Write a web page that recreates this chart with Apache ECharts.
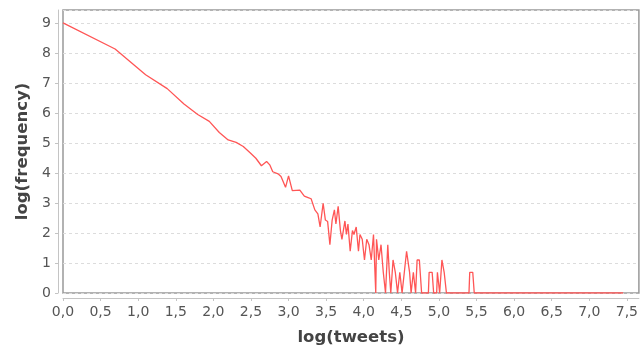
<!DOCTYPE html>
<html>
<head>
<meta charset="utf-8">
<script src="https://cdn.jsdelivr.net/npm/echarts@6/dist/echarts.min.js"></script>
<style>
  html, body { margin: 0; padding: 0; background: #fff; }
  #chart { width: 641px; height: 352px; }
</style>
</head>
<body>
<div id="chart"></div>
<script>
// log(tweets) on x, log(frequency) on y
const logTweets = [
  0, 0.693, 1.099, 1.386, 1.609, 1.792, 1.946, 2.079, 2.197, 2.303,
  2.398, 2.485, 2.565, 2.639, 2.708, 2.75, 2.79, 2.86, 2.90, 2.96,
  3.00, 3.05, 3.15, 3.21, 3.26, 3.30, 3.35, 3.39, 3.42, 3.46,
  3.49, 3.52, 3.55, 3.58, 3.61, 3.63, 3.66, 3.69, 3.71, 3.75,
  3.77, 3.79, 3.82, 3.85, 3.87, 3.90, 3.93, 3.95, 3.98, 4.01,
  4.04, 4.07, 4.10, 4.13, 4.16, 4.17, 4.20, 4.23, 4.26, 4.29,
  4.32, 4.34, 4.36, 4.39, 4.42, 4.45, 4.48, 4.51, 4.54, 4.57,
  4.61, 4.63, 4.66, 4.69, 4.71, 4.74, 4.77, 4.86, 4.87, 4.91,
  4.93, 4.97, 4.98, 5.01, 5.04, 5.07, 5.10, 5.40, 5.41, 5.45,
  5.47, 7.45
];
const logFreq = [
  9.0, 8.13, 7.27, 6.81, 6.30, 5.95, 5.72, 5.35, 5.10, 5.02,
  4.88, 4.68, 4.49, 4.24, 4.38, 4.27, 4.04, 3.97, 3.88, 3.52,
  3.90, 3.41, 3.43, 3.23, 3.18, 3.14, 2.77, 2.64, 2.20, 2.99,
  2.43, 2.38, 1.61, 2.43, 2.77, 2.30, 2.89, 2.08, 1.79, 2.40,
  1.95, 2.30, 1.39, 2.08, 1.95, 2.20, 1.39, 1.95, 1.79, 1.10,
  1.79, 1.61, 1.10, 1.95, 0, 1.79, 1.10, 1.61, 0.69, 0,
  1.61, 0.69, 0, 1.10, 0.69, 0, 0.69, 0, 0.69, 1.39,
  0.69, 0, 0.69, 0, 1.10, 1.10, 0, 0, 0.69, 0.69,
  0, 0, 0.69, 0, 1.10, 0.69, 0, 0, 0.69, 0.69,
  0, 0
];

const X_MAX = 7.66;
const Y_MAX = 9.43;

const FONT = "DejaVu Sans";
const LABEL_COLOR = "#555";

const chart = echarts.init(document.getElementById("chart"), null, { renderer: "canvas" });

const points = logTweets.map((x, i) => [x, logFreq[i]]);

chart.setOption({
  animation: false,
  backgroundColor: "#fff",
  grid: {
    left: 63,
    right: 1,
    top: 10,
    bottom: 59,
    show: true,
    borderColor: "#999",
    borderWidth: 1.5,
    containLabel: false
  },
  xAxis: {
    type: "value",
    min: 0,
    max: X_MAX,
    interval: 0.5,
    offset: 5,
    name: "log(tweets)",
    nameLocation: "middle",
    nameGap: 31,
    nameTextStyle: { fontFamily: FONT, fontSize: 16.5, fontWeight: "bold", color: "#444" },
    axisLine: { show: true, onZero: false, lineStyle: { color: "#c4c4c4", width: 1 } },
    axisTick: { show: true, length: 3, lineStyle: { color: "#c4c4c4" } },
    axisLabel: {
      margin: 7,
      fontFamily: FONT,
      fontSize: 14,
      color: LABEL_COLOR,
      showMaxLabel: false,
      formatter: v => v.toFixed(1).replace(".", ",")
    },
    splitLine: { show: false }
  },
  yAxis: {
    type: "value",
    min: 0,
    max: Y_MAX,
    interval: 1,
    offset: 5,
    name: "log(frequency)",
    nameLocation: "middle",
    nameGap: 26,
    nameTextStyle: { fontFamily: FONT, fontSize: 16.5, fontWeight: "bold", color: "#444" },
    axisLine: { show: true, onZero: false, lineStyle: { color: "#c4c4c4", width: 1 } },
    axisTick: { show: true, length: 3, lineStyle: { color: "#c4c4c4" } },
    axisLabel: {
      margin: 7,
      fontFamily: FONT,
      fontSize: 14,
      color: LABEL_COLOR,
      showMaxLabel: false,
      formatter: v => (Number.isInteger(v) ? String(v) : "")
    },
    splitLine: { show: true, lineStyle: { color: "#dcdcdc", type: [3, 3], width: 1 } }
  },
  series: [
    {
      type: "line",
      data: points,
      showSymbol: false,
      symbol: "none",
      lineStyle: { color: "#ff5555", width: 1.3 },
      silent: true
    }
  ]
});
</script>
</body>
</html>
